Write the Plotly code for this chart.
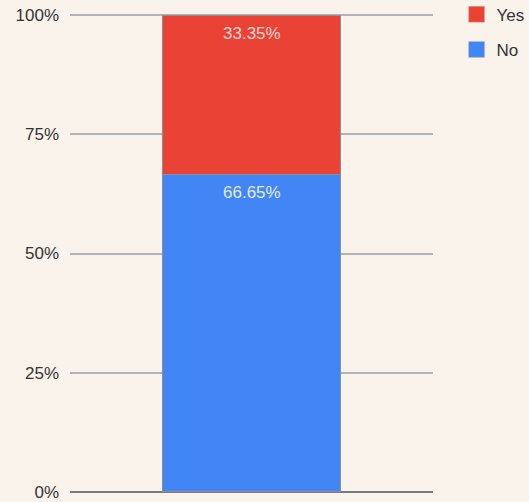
import plotly.graph_objects as go

categories = [""]
no_values = [66.65]
yes_values = [33.35]
tick_vals = [0, 25, 50, 75, 100]
tick_text = ["0%", "25%", "50%", "75%", "100%"]

NO_COLOR = "#4285F4"
YES_COLOR = "#EA4335"
FONT = "Liberation Sans"

fig = go.Figure()
fig.add_trace(go.Bar(
    x=categories, y=no_values, name="No",
    marker=dict(color=NO_COLOR, line=dict(color="#8a8f99", width=1)),
    showlegend=False, width=0.49,
))
fig.add_trace(go.Bar(
    x=categories, y=yes_values, name="Yes",
    marker=dict(color=YES_COLOR, line=dict(color="#8a8f99", width=1)),
    showlegend=False, width=0.49,
))
# legend entries (larger square swatches)
for name, col, rank in [("Yes", YES_COLOR, 1), ("No", NO_COLOR, 2)]:
    fig.add_trace(go.Scatter(
        x=[None], y=[None], mode="markers", name=name,
        marker=dict(symbol="square", size=16, color=col, line=dict(color="#c9c0b8", width=0.5)),
        legendgroup=name, legendrank=rank, hoverinfo="skip",
    ))

# value labels near the top of each stacked segment
tops = [no_values[0], no_values[0] + yes_values[0]]
vals = [no_values[0], yes_values[0]]
cols = ["#e3ecfb", "#f8d6d1"]
for top, v, c in zip(tops, vals, cols):
    fig.add_annotation(x=categories[0], y=top, text=f"{v:.2f}%", showarrow=False,
                       yanchor="top", yshift=-7,
                       font=dict(color=c, size=17, family=FONT))

fig.update_layout(
    barmode="stack",
    width=529, height=502,
    margin=dict(l=70, r=96, t=14, b=9, autoexpand=False),
    paper_bgcolor="#FAF3EC", plot_bgcolor="#FAF3EC",
    font=dict(family=FONT, size=17, color="#333333"),
    showlegend=True,
    legend=dict(x=1.065, y=1.036, xanchor="left", yanchor="top",
                traceorder="grouped", tracegroupgap=10,
                font=dict(size=17, color="#333333"), bgcolor="rgba(0,0,0,0)"),
)
fig.update_xaxes(showticklabels=False, showgrid=False, zeroline=False, range=[-0.5, 0.5], fixedrange=True)
fig.update_yaxes(range=[-0.25, 100.25], tickvals=tick_vals, ticktext=tick_text,
                 showgrid=True, gridcolor="#b3b3b3", gridwidth=2,
                 zeroline=True, zerolinecolor="#7a7a7a", zerolinewidth=2,
                 ticks="", ticklabelstandoff=10, ticklabeloverflow="allow",
                 tickfont=dict(size=17, color="#333333"))
fig.write_html("out.html", config={"displayModeBar": False},
               post_script="document.body.style.margin='0';")
